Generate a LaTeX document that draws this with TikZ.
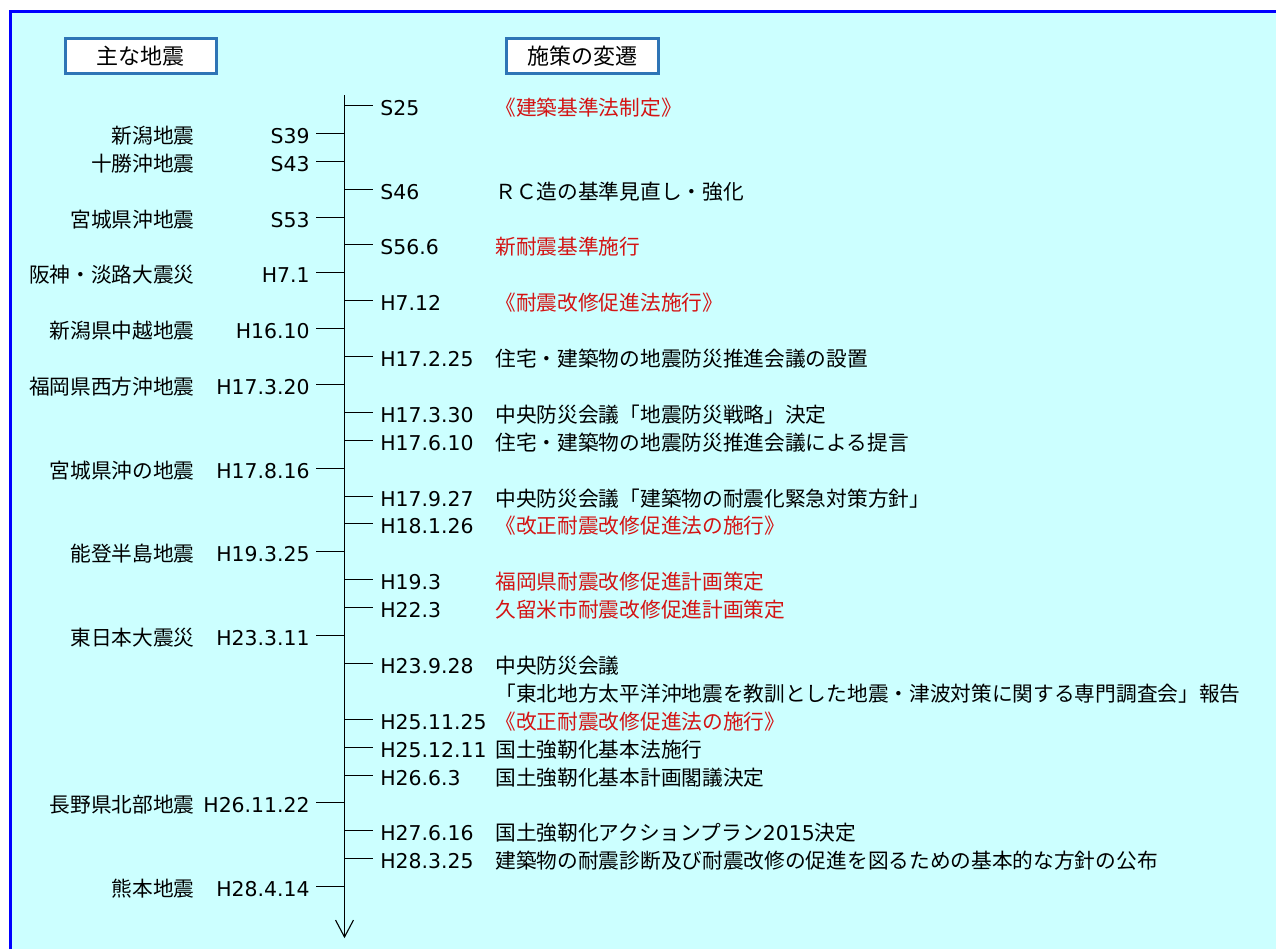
\documentclass[tikz,border=0pt]{standalone}
\usepackage{fontspec}
\setmainfont{DejaVu Sans}
\newfontfamily\jp{Noto Sans CJK JP}
\newfontfamily\lat{DejaVu Sans}
\definecolor{bgcyan}{RGB}{204,255,255}
\definecolor{frameblue}{RGB}{0,0,255}
\definecolor{hdrblue}{RGB}{46,117,182}
\definecolor{txtred}{RGB}{212,20,20}
\newcommand\latsz{\lat\fontsize{10.2}{12}\selectfont}
\newcommand\jpsz{\jp\fontsize{10.35}{12}\selectfont}
\tikzset{
  datelab/.style={font=\latsz, inner ysep=0pt, text=black},
  jlab/.style={font=\jpsz, inner sep=0pt, text=black},
  redlab/.style={jlab, text=txtred},
  tickline/.style={draw=black, line width=0.55pt},
  hdrbox/.style={draw=hdrblue, line width=1.4pt, fill=white, font=\jp\fontsize{11}{13}\selectfont,
    minimum height=17.6pt, inner sep=0pt}
}
% right row: [policy style]{id}{k}{date}{text}
\newcommand\rrow[5][jlab]{%
  \coordinate (a#2) at (344.5,{round(105+27.9*#3)+0.5});
  \node[datelab, anchor=base west, inner xsep=3.5pt] (d#2) at (373,{round(105+27.9*#3)+10.5}) {#4};
  \node[#1, anchor=base west] (p#2) at (495,{round(105+27.9*#3)+10.5}) {#5};
  \draw[tickline] (a#2) -- (a#2 -| d#2.west);
}
% left row: {id}{k}{name}{date}
\newcommand\lrow[4]{%
  \coordinate (b#1) at (344.5,{round(105+27.9*#2)+0.5});
  \node[datelab, anchor=base east, inner xsep=3pt] (e#1) at (316,{round(105+27.9*#2)+10.5}) {#4};
  \node[jlab, anchor=base east] (n#1) at (195,{round(105+27.9*#2)+10.5}) {#3};
  \draw[tickline] (b#1) -- (b#1 -| e#1.east);
}
\begin{document}
\begin{tikzpicture}[x=0.5pt, y=-0.5pt]
\useasboundingbox (0,0) rectangle (1276,949);
\fill[white] (0,0) rectangle (1276,949);
\fill[bgcyan] (10.5,11.5) rectangle (1276,949);
\draw[frameblue, line width=1.5pt] (10.5,949) -- (10.5,11.5) -- (1276,11.5);

% headers
\node[hdrbox, minimum width=75.6pt] (h1) at (141,56) {主な地震};
\node[hdrbox, minimum width=76.1pt] (h2) at (582.5,56) {施策の変遷};

% axis
\coordinate (top) at (344.5,95);
\coordinate (tip) at (344.5,937);
\draw[tickline] (top) -- (tip);
\draw[tickline] (tip) ++(-9,-17) -- (tip) -- ++(9,-17);

% right side
\rrow[redlab]{r0}{0}{S25}{《建築基準法制定》}
\rrow{r3}{3}{S46}{ＲＣ造の基準見直し・強化}
\rrow[redlab]{r5}{5}{S56.6}{新耐震基準施行}
\rrow[redlab]{r7}{7}{H7.12}{《耐震改修促進法施行》}
\rrow{r9}{9}{H17.2.25}{住宅・建築物の地震防災推進会議の設置}
\rrow{r11}{11}{H17.3.30}{中央防災会議「地震防災戦略」決定}
\rrow{r12}{12}{H17.6.10}{住宅・建築物の地震防災推進会議による提言}
\rrow{r14}{14}{H17.9.27}{中央防災会議「建築物の耐震化緊急対策方針」}
\rrow[redlab]{r15}{15}{H18.1.26}{《改正耐震改修促進法の施行》}
\rrow[redlab]{r17}{17}{H19.3}{福岡県耐震改修促進計画策定}
\rrow[redlab]{r18}{18}{H22.3}{久留米市耐震改修促進計画策定}
\rrow{r20}{20}{H23.9.28}{中央防災会議}
\node[jlab, anchor=base west] (p21) at (495,{round(105+27.9*21)+10.5}) {「東北地方太平洋沖地震を教訓とした地震・津波対策に関する専門調査会」報告};
\rrow[redlab]{r22}{22}{H25.11.25}{《改正耐震改修促進法の施行》}
\rrow{r23}{23}{H25.12.11}{国土強靭化基本法施行}
\rrow{r24}{24}{H26.6.3}{国土強靭化基本計画閣議決定}
\rrow{r26}{26}{H27.6.16}{国土強靭化アクションプラン{\latsz 2015}決定}
\rrow{r27}{27}{H28.3.25}{建築物の耐震診断及び耐震改修の促進を図るための基本的な方針の公布}

% left side
\lrow{l1}{1}{新潟地震}{S39}
\lrow{l2}{2}{十勝沖地震}{S43}
\lrow{l4}{4}{宮城県沖地震}{S53}
\lrow{l6}{6}{阪神・淡路大震災}{H7.1}
\lrow{l8}{8}{新潟県中越地震}{H16.10}
\lrow{l10}{10}{福岡県西方沖地震}{H17.3.20}
\lrow{l13}{13}{宮城県沖の地震}{H17.8.16}
\lrow{l16}{16}{能登半島地震}{H19.3.25}
\lrow{l19}{19}{東日本大震災}{H23.3.11}
\lrow{l25}{25}{長野県北部地震}{H26.11.22}
\lrow{l28}{28}{熊本地震}{H28.4.14}
\end{tikzpicture}
\end{document}
